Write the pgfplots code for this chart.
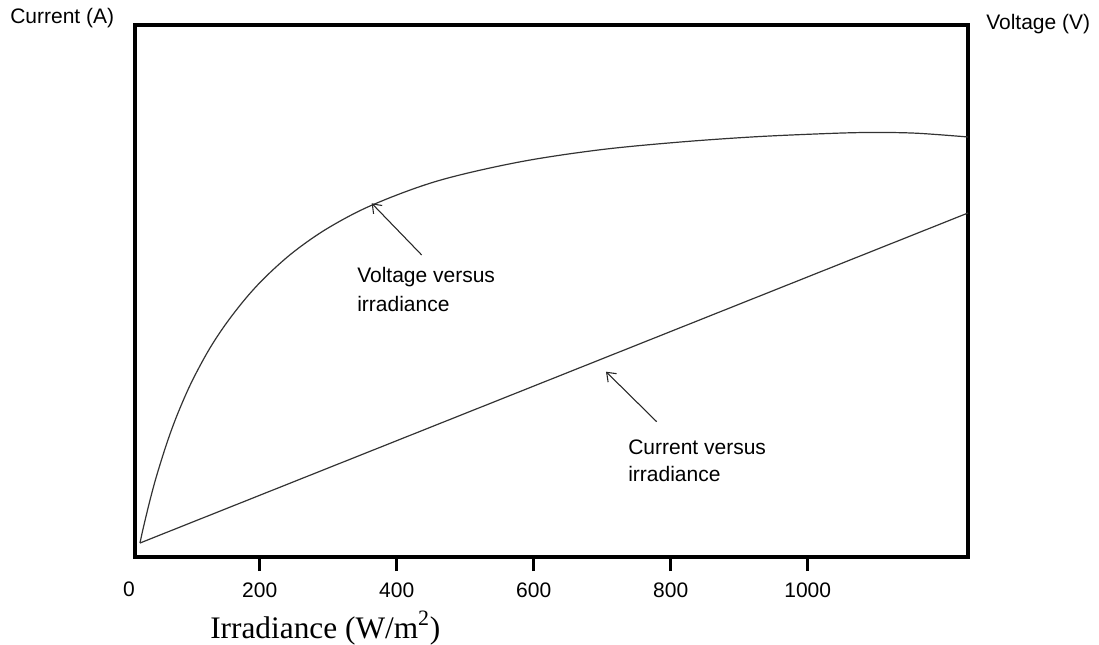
\documentclass[border=0pt]{standalone}
\usepackage{fontspec}
\setmainfont{Liberation Sans}
\newfontfamily\timesfont{Liberation Serif}
\usepackage{pgfplots}
\pgfplotsset{compat=1.18}
\usetikzlibrary{arrows.meta}
\begin{document}
\begin{tikzpicture}
\begin{axis}[
  scale only axis,
  width=624.75pt, height=399pt,
  xmin=18, xmax=1234, ymin=0, ymax=100,
  axis line style={line width=2.6pt, black},
  xtick={200,400,600,800,1000},
  xtick pos=left,
  ytick=\empty,
  xtick align=outside,
  xmajorticks=true,
  major tick length=10.5pt,
  xtick style={draw=black, line width=2pt},
  /pgf/number format/assume math mode=true,
  /pgf/number format/1000 sep={},
  xticklabel style={font=\fontsize{15.75}{18}\selectfont, yshift=-5pt},
  clip=false,
]
\addplot[line width=0.9pt, black!80, smooth, tension=0.55] coordinates {
(25.3,2.63) (30,5.42) (40,10.74) (50,15.46) (65,21.59) (80,26.83)
(100,32.72) (125,38.75) (150,43.69) (180,48.67) (210,52.83) (250,57.39)
(300,61.85) (365,66.2) (460,70.7) (577,74.2) (694,76.5) (809,77.95)
(925,79.0) (1040,79.65) (1100,79.8) (1160,79.65) (1234,78.95)
};
\addplot[line width=0.9pt, black!80] coordinates {
(25.3,2.63) (1234,64.66)
};
% canvas
\path (rel axis cs:-0.16206,-0.16353) rectangle (rel axis cs:1.15726,1.04699);
% labels
\node[anchor=base west, inner sep=0pt, font=\fontsize{15.75}{18}\selectfont] at (rel axis cs:-0.15006,1.00188) {Current (A)};
\node[anchor=base west, inner sep=0pt, font=\fontsize{15.75}{18}\selectfont] at (rel axis cs:1.02161,0.99060) {Voltage (V)};
\node[anchor=base west, inner sep=0pt, font=\fontsize{15.75}{18}\selectfont] at (rel axis cs:0.26651,0.51504) {Voltage versus};
\node[anchor=base west, inner sep=0pt, font=\fontsize{15.75}{18}\selectfont] at (rel axis cs:0.26651,0.46053) {irradiance};
\node[anchor=base west, inner sep=0pt, font=\fontsize{15.75}{18}\selectfont] at (rel axis cs:0.59184,0.19361) {Current versus};
\node[anchor=base west, inner sep=0pt, font=\fontsize{15.75}{18}\selectfont] at (rel axis cs:0.59184,0.14098) {irradiance};
\node[anchor=base west, inner sep=0pt, font=\timesfont\fontsize{23.5}{28}\selectfont] at (rel axis cs:0.09004,-0.15226) {Irradiance (W/m\textsuperscript{2})};
\node[anchor=north, inner sep=0pt, font=\fontsize{15.75}{18}\selectfont] at (rel axis cs:-0.0072,-0.0470) {0};
% arrows
\draw[line width=0.8pt, black!85, -{Straight Barb[length=6pt,width=9pt]}] (rel axis cs:0.34418,0.56767) -- (rel axis cs:0.28415,0.66485);
\draw[line width=0.8pt, black!85, -{Straight Barb[length=6pt,width=9pt]}] (rel axis cs:0.62629,0.25432) -- (rel axis cs:0.56543,0.34831);
\end{axis}
\end{tikzpicture}
\end{document}
